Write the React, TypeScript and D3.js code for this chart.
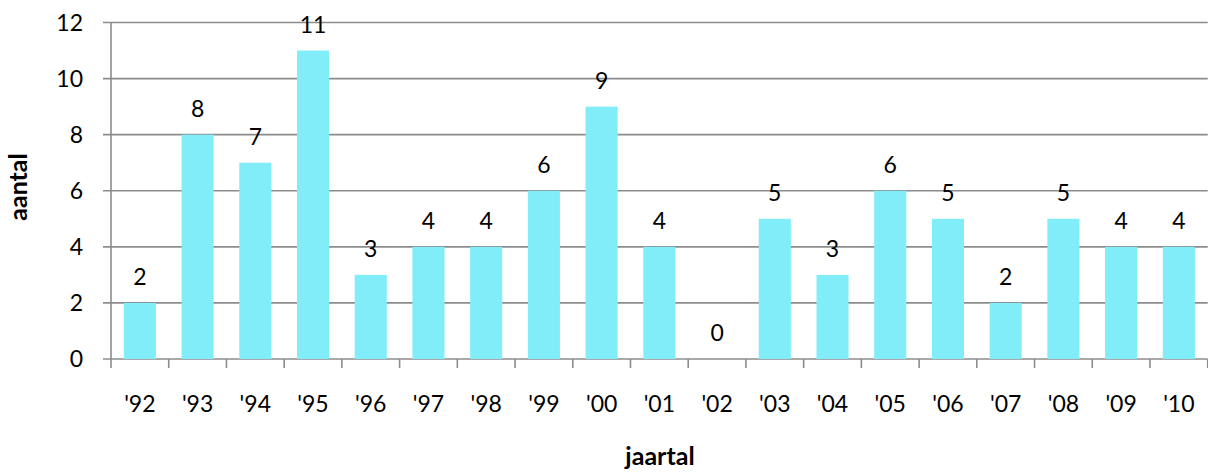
import React from "react";
import * as d3 from "d3";

const years = ["'92", "'93", "'94", "'95", "'96", "'97", "'98", "'99", "'00", "'01", "'02", "'03", "'04", "'05", "'06", "'07", "'08", "'09", "'10"];
const counts = [2, 8, 7, 11, 3, 4, 4, 6, 9, 4, 0, 5, 3, 6, 5, 2, 5, 4, 4];
const yTicks = [0, 2, 4, 6, 8, 10, 12];

const W = 1208;
const H = 475;
const left = 111;
const right = 1207.7;
const top = 22.5;
const bottom = 359;
const FONT = "Lato, 'Open Sans', sans-serif";
const GRID = "#8c8c8c";
const BAR = "#80edf9";

export default function App() {
  const x = d3.scaleBand<string>().domain(years).range([left, right]).paddingInner(0.8 / 1.8).paddingOuter(0.4 / 1.8);
  const band = d3.scaleBand<string>().domain(years).range([left, right]);
  const y = d3.scaleLinear().domain([0, 12]).range([bottom, top]);

  return (
    <svg width={W} height={H} style={{ position: "absolute", left: 0, top: 0, background: "#fff" }} fontFamily={FONT}>
      {yTicks.map((t) => (
        <g key={t}>
          <line x1={left - 8} x2={right} y1={y(t)} y2={y(t)} stroke={GRID} strokeWidth={1.6} />
          <text x={83} y={y(t) + 8} fontSize={23} textAnchor="end" fill="#000">{t}</text>
        </g>
      ))}
      <line x1={left} x2={left} y1={top} y2={bottom} stroke={GRID} strokeWidth={1.6} />
      {years.map((yr) => (
        <line key={"t" + yr} x1={band(yr)!} x2={band(yr)!} y1={bottom} y2={bottom + 9} stroke={GRID} strokeWidth={1.6} />
      ))}
      <line x1={right} x2={right} y1={bottom} y2={bottom + 9} stroke={GRID} strokeWidth={1.6} />
      {years.map((yr, i) => (
        <g key={yr}>
          {counts[i] > 0 && (
            <rect x={x(yr)!} y={y(counts[i])} width={x.bandwidth()} height={y(0) - y(counts[i])} fill={BAR} />
          )}
          <text x={x(yr)! + x.bandwidth() / 2} y={y(counts[i]) - 18} fontSize={23} textAnchor="middle" fill="#000">{counts[i]}</text>
          <text x={band(yr)! + band.bandwidth() / 2} y={411.5} fontSize={23} textAnchor="middle" fill="#000">{yr}</text>
        </g>
      ))}
      <text transform={`translate(27,187) rotate(-90)`} fontSize={25} fontWeight="bold" textAnchor="middle" fill="#000">aantal</text>
      <text x={660} y={465} fontSize={25} fontWeight="bold" textAnchor="middle" fill="#000">jaartal</text>
    </svg>
  );
}
